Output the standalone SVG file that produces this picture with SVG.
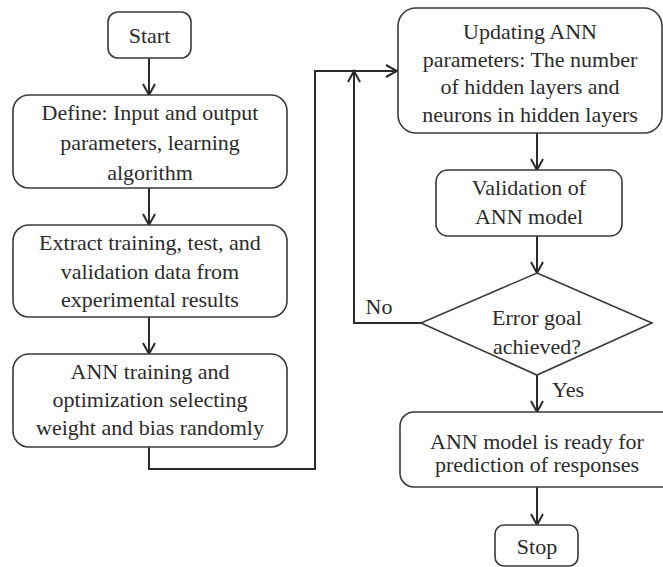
<svg xmlns="http://www.w3.org/2000/svg" width="663" height="567" viewBox="0 0 663 567">
<defs>
<marker id="ah" markerWidth="14" markerHeight="14" refX="12" refY="7" orient="auto" markerUnits="userSpaceOnUse">
<path d="M1,1 L12,7 L1,13" fill="none" stroke="#2b2b2b" stroke-width="2"/>
</marker>
</defs>
<style>
.box{fill:#fff;stroke:#3a3a3a;stroke-width:1.6}
.t{font-family:"Liberation Serif","Times New Roman",serif;font-size:22px;fill:#2b2b2b;text-anchor:middle}
.c{fill:none;stroke:#2b2b2b;stroke-width:2}
</style>
<rect width="663" height="567" fill="#fff"/>
<g id="connectors">
<line class="c" x1="149" y1="58" x2="149" y2="95" marker-end="url(#ah)"/>
<line class="c" x1="149" y1="188" x2="149" y2="225" marker-end="url(#ah)"/>
<line class="c" x1="149" y1="317" x2="149" y2="354" marker-end="url(#ah)"/>
<polyline class="c" points="149,447 149,469 315,469 315,71 397,71" marker-end="url(#ah)"/>
<polyline class="c" points="421,323 354,323 354,71" marker-end="url(#ah)"/>
<line class="c" x1="537" y1="133" x2="537" y2="170" marker-end="url(#ah)"/>
<line class="c" x1="537" y1="236" x2="537" y2="273" marker-end="url(#ah)"/>
<line class="c" x1="537" y1="375" x2="537" y2="412" marker-end="url(#ah)"/>
<line class="c" x1="537" y1="487" x2="537" y2="525" marker-end="url(#ah)"/>
<text class="t" x="379" y="314">No</text>
<text class="t" x="568" y="397">Yes</text>
</g>
<g id="start">
<rect class="box" x="108" y="12" width="83" height="46" rx="10"/>
<text class="t" x="149.5" y="43">Start</text>
</g>
<g id="define">
<rect class="box" x="13" y="95" width="274" height="93" rx="16"/>
<text class="t" x="150" y="120">Define: Input and output</text>
<text class="t" x="150" y="150">parameters, learning</text>
<text class="t" x="150" y="180">algorithm</text>
</g>
<g id="extract">
<rect class="box" x="13" y="225" width="274" height="92" rx="16"/>
<text class="t" x="150" y="250">Extract training, test, and</text>
<text class="t" x="150" y="279">validation data from</text>
<text class="t" x="150" y="307">experimental results</text>
</g>
<g id="training">
<rect class="box" x="13" y="354" width="274" height="93" rx="16"/>
<text class="t" x="150" y="379">ANN training and</text>
<text class="t" x="150" y="407">optimization selecting</text>
<text class="t" x="150" y="435">weight and bias randomly</text>
</g>
<g id="updating">
<rect class="box" x="398" y="8" width="264" height="125" rx="18"/>
<text class="t" x="530" y="39">Updating ANN</text>
<text class="t" x="530" y="67">parameters: The number</text>
<text class="t" x="530" y="94">of hidden layers and</text>
<text class="t" x="530" y="122">neurons in hidden layers</text>
</g>
<g id="validation">
<rect class="box" x="436" y="170" width="186" height="66" rx="12"/>
<text class="t" x="529" y="195">Validation of</text>
<text class="t" x="529" y="224">ANN model</text>
</g>
<g id="decision">
<polygon class="box" points="537,273 652,323 537,375 421,323"/>
<text class="t" x="537" y="325">Error goal</text>
<text class="t" x="537" y="354">achieved?</text>
</g>
<g id="ready">
<rect class="box" x="400" y="412" width="280" height="75" rx="14"/>
<text class="t" x="537" y="449">ANN model is ready for</text>
<text class="t" x="537" y="472">prediction of responses</text>
</g>
<g id="stop">
<rect class="box" x="495" y="525" width="83" height="41" rx="9"/>
<text class="t" x="537" y="554">Stop</text>
</g>
</svg>
